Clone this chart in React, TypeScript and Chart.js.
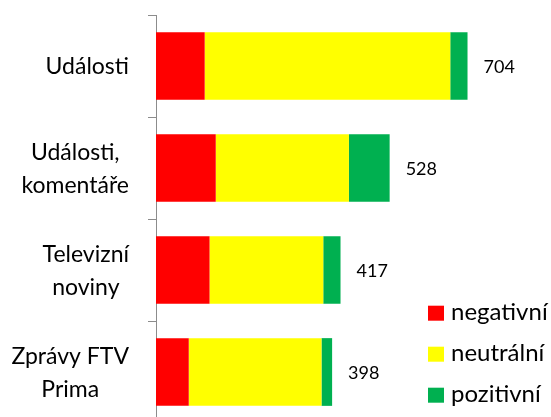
import React, { useEffect, useRef } from "react";
import { Chart, registerables } from "chart.js";

Chart.register(...registerables);

const categories: string[][] = [
  ["Události"],
  ["Události,", "komentáře"],
  ["Televizní", "noviny"],
  ["Zprávy FTV", "Prima"],
];
const seriesNames = ["negativní", "neutrální", "pozitivní"];
const negativni = [110, 135, 121, 74];
const neutralni = [555, 301, 257, 300];
const pozitivni = [39, 92, 39, 24];
const totals = [704, 528, 417, 398];
const colors = ["#FF0000", "#FFFF00", "#00B050"];

const FONT = "Lato";

const labelsPlugin = {
  id: "customLabels",
  afterDraw(chart: any) {
    const ctx = chart.ctx;
    const area = chart.chartArea;
    const yScale = chart.scales.y;
    ctx.save();
    ctx.fillStyle = "#000";
    // category labels
    ctx.font = `23px ${FONT}`;
    const lineH = 32.5;
    categories.forEach((lines, i) => {
      const cy = yScale.getPixelForValue(i);
      const widths = lines.map((l) => ctx.measureText(l).width);
      const maxW = Math.max(...widths);
      const right = area.left - 27;
      const cx = right - maxW / 2;
      ctx.textAlign = "center";
      ctx.textBaseline = "alphabetic";
      lines.forEach((l, j) => {
        const y = cy + (j - (lines.length - 1) / 2) * lineH + 8.3;
        ctx.fillText(l, cx, y);
      });
    });
    // totals
    ctx.font = `18px ${FONT}`;
    ctx.textAlign = "left";
    const last = chart.getDatasetMeta(chart.data.datasets.length - 1);
    totals.forEach((t, i) => {
      const bar = last.data[i];
      ctx.fillText(String(t), bar.x + 16, bar.y + 7);
    });
    // legend
    ctx.font = `24px ${FONT}`;
    const legendBottoms = [320.7, 361.7, 402.7];
    seriesNames.forEach((name, i) => {
      const b = legendBottoms[i];
      ctx.fillStyle = colors[i];
      ctx.fillRect(428, b - 15, 16, 15);
      ctx.fillStyle = "#000";
      ctx.fillText(name, 451, b - 0.5);
    });
    ctx.restore();
  },
};

export default function App() {
  const ref = useRef<HTMLCanvasElement>(null);
  useEffect(() => {
    const chart = new Chart(ref.current!, {
      type: "bar",
      data: {
        labels: categories,
        datasets: [
          { label: seriesNames[0], data: negativni, backgroundColor: colors[0] },
          { label: seriesNames[1], data: neutralni, backgroundColor: colors[1] },
          { label: seriesNames[2], data: pozitivni, backgroundColor: colors[2] },
        ],
      },
      options: {
        indexAxis: "y",
        responsive: false,
        animation: false,
        layout: { padding: { top: 15, bottom: 1, right: 41, left: 0 } },
        datasets: { bar: { categoryPercentage: 1, barPercentage: 0.664 } } as any,
        plugins: { legend: { display: false }, tooltip: { enabled: false } },
        scales: {
          x: { stacked: true, display: false, min: 0, max: 800 },
          y: {
            stacked: true,
            ticks: { display: false },
            grid: {
              display: true,
              offset: true,
              drawOnChartArea: false,
              drawTicks: true,
              tickLength: 8,
              color: "#8c8c8c",
            },
            border: { display: true, color: "#8c8c8c", width: 1 },
            afterFit: (scale: any) => {
              scale.width = 156;
            },
          },
        },
      },
      plugins: [labelsPlugin],
    });
    return () => chart.destroy();
  }, []);
  return (
    <div style={{ position: "fixed", left: 0, top: 0, width: 551, height: 417, overflow: "hidden", background: "#fff" }}>
      <canvas ref={ref} width={551} height={424} />
    </div>
  );
}
